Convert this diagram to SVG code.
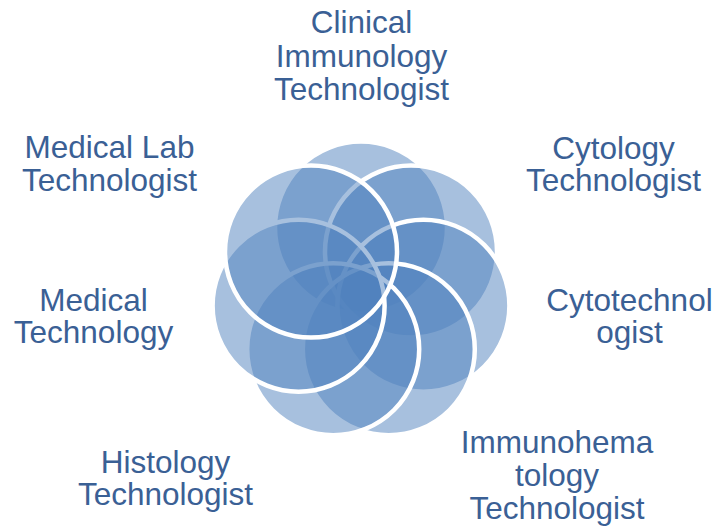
<svg xmlns="http://www.w3.org/2000/svg" width="716" height="528" viewBox="0 0 716 528">
  <style>
    .ring { fill: #4F81BD; fill-opacity: 0.5; stroke: #FFFFFF; stroke-width: 4.5; }
    .lbl { font-family: "Liberation Sans", Arial, sans-serif; font-size: 31.5px; fill: #3A6095; text-anchor: middle; }
  </style>
  <rect width="716" height="528" fill="#FFFFFF"/>
  <g id="connectors"/>
  <g id="node-clinical-immunology">
    <circle class="ring" cx="361" cy="227.5" r="86"/>
    <text class="lbl" y="33"><tspan x="361.5">Clinical</tspan><tspan x="361.5" dy="34">Immunology</tspan><tspan x="361.5" dy="33">Technologist</tspan></text>
  </g>
  <g id="node-cytology">
    <circle class="ring" cx="411" cy="251.6" r="86"/>
    <text class="lbl" y="159"><tspan x="613.5">Cytology</tspan><tspan x="613.5" dy="32">Technologist</tspan></text>
  </g>
  <g id="node-cytotechnologist">
    <circle class="ring" cx="423.4" cy="305.7" r="86"/>
    <text class="lbl" y="311"><tspan x="629.5">Cytotechnol</tspan><tspan x="629.5" dy="32">ogist</tspan></text>
  </g>
  <g id="node-immunohematology">
    <circle class="ring" cx="388.8" cy="349.2" r="86"/>
    <text class="lbl" y="453"><tspan x="557">Immunohema</tspan><tspan x="557" dy="33">tology</tspan><tspan x="557" dy="33">Technologist</tspan></text>
  </g>
  <g id="node-histology">
    <circle class="ring" cx="333.2" cy="349.2" r="86"/>
    <text class="lbl" y="473"><tspan x="165.5">Histology</tspan><tspan x="165.5" dy="32">Technologist</tspan></text>
  </g>
  <g id="node-medical-technology">
    <circle class="ring" cx="298.6" cy="305.7" r="86"/>
    <text class="lbl" y="311"><tspan x="93.5">Medical</tspan><tspan x="93.5" dy="32">Technology</tspan></text>
  </g>
  <g id="node-medical-lab">
    <circle class="ring" cx="311" cy="251.6" r="86"/>
    <text class="lbl" y="158"><tspan x="109.5">Medical Lab</tspan><tspan x="109.5" dy="33">Technologist</tspan></text>
  </g>
</svg>
